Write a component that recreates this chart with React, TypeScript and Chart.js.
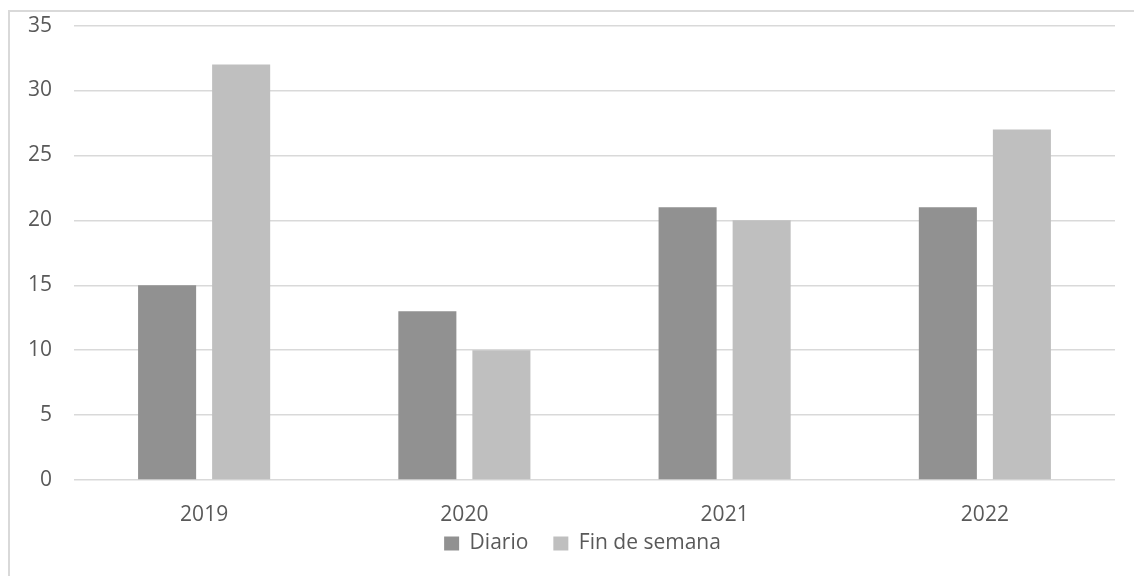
import React, { useEffect, useRef } from "react";
import { Chart, registerables } from "chart.js";

Chart.register(...registerables);

const categories = ["2019", "2020", "2021", "2022"];
const diario = [15, 13, 21, 21];
const finDeSemana = [32, 10, 20, 27];
const yTicks = [0, 5, 10, 15, 20, 25, 30, 35];

const FONT = "'Open Sans', 'Liberation Sans', sans-serif";

const legendShift = {
  id: "legendShift",
  afterLayout(chart: any) {
    const lg = chart.legend;
    if (!lg) return;
    lg.top -= 16;
    lg.bottom -= 16;
    lg.left += 25;
    lg.right += 25;
  },
};

export default function App() {
  const ref = useRef<HTMLCanvasElement | null>(null);

  useEffect(() => {
    document.body.style.overflow = "hidden";
    const chart = new Chart(ref.current!, {
      type: "bar",
      data: {
        labels: categories,
        datasets: [
          {
            label: "Diario",
            data: diario,
            backgroundColor: "#919191",
            categoryPercentage: 0.569,
            barPercentage: 0.784,
          },
          {
            label: "Fin de semana",
            data: finDeSemana,
            backgroundColor: "#bfbfbf",
            categoryPercentage: 0.569,
            barPercentage: 0.784,
          },
        ],
      },
      plugins: [legendShift],
      options: {
        animation: false,
        responsive: false,
        devicePixelRatio: 1,
        layout: { padding: { top: 11, left: 0, right: 19, bottom: 14 } },
        plugins: {
          tooltip: { enabled: false },
          legend: {
            position: "bottom",
            labels: {
              boxWidth: 15,
              boxHeight: 14,
              padding: 25,
              color: "#595959",
              font: { family: FONT, size: 21 },
            },
          },
        },
        scales: {
          x: {
            grid: { display: false, drawTicks: false },
            border: { display: false },
            ticks: {
              color: "#595959",
              font: { family: FONT, size: 21 },
              padding: 22,
            },
            afterFit: (s: any) => {
              s.height = 44;
            },
          },
          y: {
            min: 0,
            max: 35,
            afterBuildTicks: (s: any) => {
              s.ticks = yTicks.map((v) => ({ value: v }));
            },
            grid: { color: "#d9d9d9", lineWidth: 1.5, drawTicks: false },
            border: { display: false },
            ticks: {
              color: "#595959",
              font: { family: FONT, size: 21 },
              padding: 22,
            },
            afterFit: (s: any) => {
              s.width = 74;
            },
          },
        },
      },
    });
    return () => chart.destroy();
  }, []);

  return (
    <>
      <div
        style={{
          position: "fixed",
          left: 8,
          top: 10,
          width: 1140,
          height: 600,
          border: "2px solid #d9d9d9",
          boxSizing: "border-box",
        }}
      />
      <canvas
        ref={ref}
        width={1134}
        height={603}
        style={{ position: "fixed", left: 0, top: -9, width: 1134, height: 603 }}
      />
    </>
  );
}
